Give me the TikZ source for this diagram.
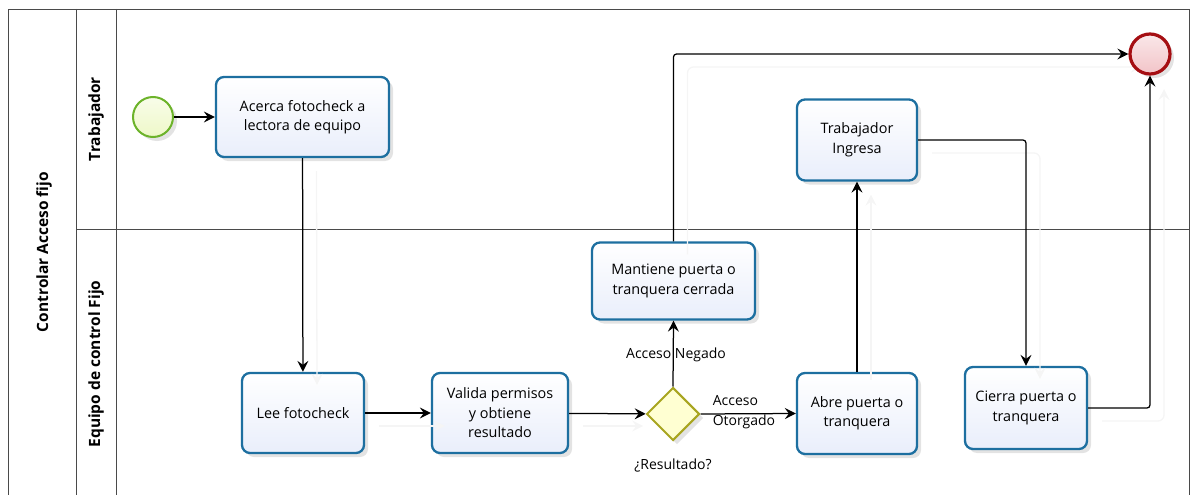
\documentclass[tikz,border=0pt]{standalone}
\usepackage{fontspec}
\setmainfont{Open Sans}
\usetikzlibrary{arrows.meta,shapes.geometric,shadows,calc}
\definecolor{taskline}{HTML}{1D6FA0}
\definecolor{taskfill}{HTML}{E9EEFB}
\definecolor{startline}{HTML}{6CB32A}
\definecolor{startfill}{HTML}{EEF8C8}
\definecolor{endline}{HTML}{A50E12}
\definecolor{endfill}{HTML}{F2C4C8}
\definecolor{gateline}{HTML}{A8A520}
\definecolor{gatefill}{HTML}{FFFFD2}
\definecolor{poolline}{HTML}{4A4A4A}
\tikzset{
  x=1pt, y=-1pt,
  task/.style={draw=taskline, line width=2.3pt, rounded corners=8pt,
    top color=white, bottom color=taskfill, align=center,
    font=\fontsize{14.4}{19.5}\selectfont, inner sep=2pt,
    drop shadow={opacity=0.22, shadow xshift=4pt, shadow yshift=-4pt}},
  startev/.style={circle, draw=startline, line width=2pt, minimum size=40pt,
    inner sep=0pt, top color=white!60!startfill, bottom color=startfill,
    drop shadow={opacity=0.22, shadow xshift=4pt, shadow yshift=-4pt}},
  endev/.style={circle, draw=endline, line width=3.2pt, minimum size=40pt,
    inner sep=0pt, top color=endfill!40, bottom color=endfill,
    drop shadow={opacity=0.22, shadow xshift=4pt, shadow yshift=-4pt}},
  gate/.style={diamond, aspect=1, draw=gateline, line width=2pt,
    minimum size=53pt, inner sep=0pt, fill=gatefill,
    drop shadow={opacity=0.22, shadow xshift=4pt, shadow yshift=-4pt}},
  flow/.style={draw=black, line width=1.25pt, rounded corners=3pt,
    -{Stealth[length=11pt, width=11pt, inset=4pt]}},
  flowshade/.style={flow, draw=black!4, line width=1.3pt, rounded corners=6pt},
  lbl/.style={font=\fontsize{14}{19.5}\selectfont, align=center},
  lanelbl/.style={font=\bfseries\fontsize{15.5}{18}\selectfont, rotate=90},
  pool/.style={draw=poolline, line width=0.9pt},
}
\begin{document}
\begin{tikzpicture}
\useasboundingbox (0,0) rectangle (1192,495);

% pool and lanes
\draw[pool] (8,497) -- (8,9) -- (1189,9) -- (1189,497);
\draw[pool] (76,9) -- (76,497);
\draw[pool] (116,9) -- (116,497);
\draw[pool] (76,229) -- (1189,229);
\node[lanelbl] (poolname) at (44,252) {Controlar Acceso fijo};
\node[lanelbl] (lanetop) at (96,119) {Trabajador};
\node[lanelbl] (lanebot) at (96,364) {Equipo de control Fijo};

% events, tasks and gateway
\coordinate (startc) at (153,117);
\coordinate (endc) at (1150,54);
\node[task, minimum width=173pt, minimum height=80pt] (acerca) at (302.5,117) {Acerca fotocheck a\\lectora de equipo};
\node[task, minimum width=122pt, minimum height=80pt] (lee) at (303,413) {Lee fotocheck};
\node[task, minimum width=136pt, minimum height=80pt] (valida) at (500,413) {Valida permisos\\y obtiene\\resultado};
\node[task, minimum width=163pt, minimum height=77pt] (mantiene) at (673.5,281) {Mantiene puerta o\\tranquera cerrada};
\node[task, minimum width=120pt, minimum height=81pt] (abre) at (857,413.5) {Abre puerta o\\tranquera};
\node[task, minimum width=120pt, minimum height=81pt] (ingresa) at (857,140) {Trabajador\\Ingresa};
\node[task, minimum width=122pt, minimum height=82pt] (cierra) at (1026,408) {Cierra puerta o\\tranquera};

% faint offset shade of the sequence flows
\begin{scope}[transform canvas={xshift=14pt, yshift=-13pt}]
\draw[flowshade] (acerca.south) -- (lee.north);
\draw[flowshade] (lee.east) -- (valida.west);
\draw[flowshade] (valida.east) -- ($(valida.east)+(60,0)$);
\draw[flowshade] (mantiene.north) |- ($(endc)+(-22,0)$);
\draw[flowshade] ($(abre.north)+(0,-5)$) -- (ingresa.south);
\draw[flowshade] (ingresa.east) -| (cierra.north);
\draw[flowshade] (cierra.east) -| ($(endc)+(0,22)$);
\end{scope}

\node[startev] (start) at (startc) {};
\node[endev] (end) at (endc) {};
\node[gate] (gw) at (673,414) {};

% gateway labels
\node[lbl] (neg) at (676,355) {Acceso Negado};
\node[lbl, align=left] (otor) at (744,412) {Acceso\\Otorgado};
\node[lbl] (res) at (673,466) {¿Resultado?};

% sequence flows
\draw[flow] (start) -- (acerca);
\draw[flow] (acerca) -- (lee);
\draw[flow] (lee) -- (valida);
\draw[flow] (valida) -- (gw);
\draw[flow] (gw.north) -- (mantiene.south);
\draw[flow] (gw.east) -- (abre.west);
\draw[flow] (mantiene.north) |- (end.west);
\draw[flow] (abre.north) -- (ingresa.south);
\draw[flow] (ingresa.east) -| (cierra.north);
\draw[flow] (cierra.east) -| (end.south);
\end{tikzpicture}
\end{document}
